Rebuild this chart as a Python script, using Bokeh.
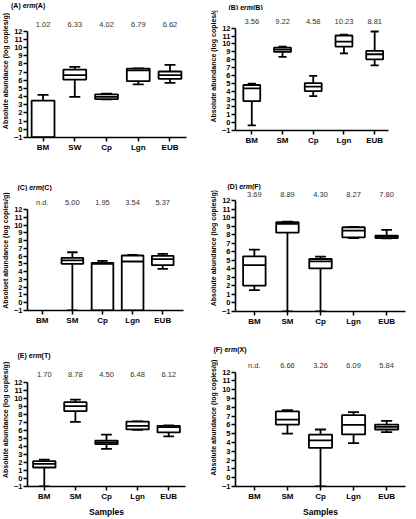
import math
from bokeh.plotting import figure
from bokeh.models import Range1d, FixedTicker
from bokeh.layouts import column, row
from bokeh.embed import file_html
from bokeh.resources import INLINE
from bokeh.core.properties import value

FONT = "Liberation Sans"
NAN = float("nan")

# ---------------- data ----------------
cats_A = ["BM", "SW", "Cp", "Lgn", "EUB"]
cats = ["BM", "SM", "Cp", "Lgn", "EUB"]
y_ticks = list(range(-1, 13))
ylabel = "Absolute abundance (log copies/g)"
ylabel_C = "Absoluet abundance (log copies/g)"
xlabel = "Samples"

# (A) erm(A)
A_means = ["1.02", "6.33", "4.02", "6.79", "6.62"]
A_lo = [-1, 3.98, 3.66, 5.49, 5.68]
A_q1 = [-1, 6.09, 3.70, 5.89, 6.17]
A_med = [-1, 6.62, 3.98, 7.22, 6.62]
A_q3 = [3.50, 7.31, 4.27, 7.43, 7.07]
A_hi = [4.22, 7.63, 4.35, 7.45, 7.87]

# (B) erm(B)
B_means = ["3.56", "9.22", "4.58", "10.23", "8.81"]
B_lo = [-0.36, 8.35, 3.38, 8.81, 7.28]
B_q1 = [2.74, 8.98, 4.01, 9.66, 8.05]
B_med = [4.35, 9.28, 4.57, 10.30, 8.69]
B_q3 = [4.78, 9.54, 5.03, 11.07, 9.11]
B_hi = [4.95, 9.66, 5.93, 11.19, 11.58]

# (C) erm(C)
C_means = ["n.d.", "5.00", "1.95", "3.54", "5.37"]
C_lo = [NAN, -1, -1, -1, 4.37]
C_q1 = [NAN, 5.01, -1, -1, 4.83]
C_med = [NAN, 5.44, 5.00, 5.31, 5.60]
C_q3 = [NAN, 5.78, 5.14, 6.08, 6.04]
C_hi = [NAN, 6.50, 5.40, 6.17, 6.30]

# (D) erm(F)
D_means = ["3.69", "8.89", "4.30", "8.27", "7.80"]
D_lo = [1.51, -1, -1, 7.61, 7.58]
D_q1 = [2.02, 8.24, 4.05, 7.69, 7.60]
D_med = [4.44, 9.26, 4.87, 8.48, 7.73]
D_q3 = [5.46, 9.45, 5.15, 8.87, 7.89]
D_hi = [6.24, 9.53, 5.42, 8.90, 8.55]

# (E) erm(T)
E_means = ["1.70", "8.78", "4.50", "6.48", "6.12"]
E_lo = [-1, 7.05, 3.70, 6.05, 5.25]
E_q1 = [1.37, 8.40, 4.27, 6.11, 5.74]
E_med = [1.82, 9.02, 4.48, 6.56, 6.40]
E_q3 = [2.15, 9.51, 4.72, 7.09, 6.56]
E_hi = [2.35, 9.83, 5.46, 7.12, 6.60]

# (F) erm(X)
F_means = ["n.d.", "6.66", "3.26", "6.09", "5.84"]
F_lo = [NAN, 5.00, -1, 3.92, 5.18]
F_q1 = [NAN, 6.04, 3.40, 4.92, 5.48]
F_med = [NAN, 6.60, 4.25, 6.00, 5.78]
F_q3 = [NAN, 7.53, 4.89, 7.12, 6.04]
F_hi = [NAN, 7.68, 5.48, 7.46, 6.45]

S = 10  # width of the y-label strip
# approximate Arial-bold advance widths (em) for the title letters
EM = {"A": 0.722, "B": 0.722, "C": 0.722, "D": 0.722, "E": 0.667, "F": 0.611,
      "T": 0.611, "X": 0.667}


def style_axis(ax, size):
    ax.axis_line_width = 1.6
    ax.major_tick_line_width = 1.5
    ax.major_tick_out = 4
    ax.major_tick_in = 0
    ax.minor_tick_out = 0
    ax.minor_tick_in = 0
    ax.major_label_standoff = 1
    ax.major_label_text_font = FONT
    ax.major_label_text_font_style = "bold"
    ax.major_label_text_font_size = size
    ax.major_label_text_color = "black"
    ax.axis_label_text_font = FONT
    ax.axis_label_text_font_style = "bold"
    ax.axis_label_text_color = "black"


def blank(w, h):
    f = figure(width=w, height=h, output_backend="svg", toolbar_location=None,
               x_range=Range1d(0, w), y_range=Range1d(0, h),
               x_axis_location=None, y_axis_location=None, min_border=0)
    f.outline_line_color = None
    f.grid.visible = False
    return f


def make_panel(letter, gene, categories, means, lo, q1, med, q3, hi, ylab_text, lay, samples=None):
    W, H, L, R, B, Hh = lay["W"], lay["H"], lay["L"], lay["R"], lay["B"], lay["Hh"]
    y12 = lay["y12"]
    Hm = H - Hh
    pos = list(range(1, len(categories) + 1))

    # ---- header with the title, full panel width (pixel coords, y up) ----
    hd = blank(W, Hh)
    tx, ty = lay["title"]
    fs = 7.0
    wa = (0.666 + EM[letter]) * fs
    sp = 0.278 * fs
    we = (0.556 + 0.389 + 0.889) * fs
    x_e = tx + wa + sp
    x_g = x_e + we
    parts = [("(%s)" % letter, tx, "bold"), ("erm", x_e, "bold italic"),
             ("(%s)" % gene, x_g, "bold")]
    for txt, px, fst in parts:
        hd.text(x=[px], y=[Hh - ty], text=[txt], text_align="left", text_baseline="middle",
                text_font=value(FONT), text_font_size="%.1fpx" % fs,
                text_font_style=fst, text_color="black")

    # ---- y-label strip (pixel coords, y up) ----
    st = blank(S, Hm)
    st.text(x=[5], y=[Hm - (lay["ylab"] - Hh)], text=[ylab_text], angle=math.pi / 2,
            text_align="center", text_baseline="middle", text_font=value(FONT),
            text_font_size="7px", text_font_style="bold", text_color="black")

    # ---- main box plot ----
    hm = Hm - B
    d = y12 - Hh
    unit = (hm - d) / 13.0
    ytop = 12 + d / unit
    p = figure(width=W - S, height=Hm, output_backend="svg", toolbar_location=None,
               x_range=Range1d(*lay["xr"]), y_range=Range1d(-1, ytop),
               min_border_left=L - S, min_border_right=R, min_border_top=0,
               min_border_bottom=B)
    p.outline_line_color = None
    p.grid.visible = False

    ya = p.yaxis[0]
    ya.ticker = FixedTicker(ticks=y_ticks)
    ya.bounds = (-1, 12)
    style_axis(ya, "7.5px")

    xa = p.xaxis[0]
    xa.ticker = FixedTicker(ticks=pos)
    xa.major_label_overrides = {i: c for i, c in zip(pos, categories)}
    style_axis(xa, "8px")
    if samples is not None:
        xa.axis_label = samples
        xa.axis_label_text_font_size = "8.5px"
        xa.axis_label_standoff = 3

    bw = lay["bw"]
    cw = bw * 0.48
    idx = [i for i in range(len(categories)) if not math.isnan(med[i])]
    xs = [pos[i] for i in idx]
    lo_ = [lo[i] for i in idx]
    q1_ = [q1[i] for i in idx]
    md_ = [med[i] for i in idx]
    q3_ = [q3[i] for i in idx]
    hi_ = [hi[i] for i in idx]
    lw = 1.8
    p.segment(x0=xs, x1=xs, y0=q3_, y1=hi_, line_color="black", line_width=lw)
    p.segment(x0=xs, x1=xs, y0=q1_, y1=lo_, line_color="black", line_width=lw)
    p.segment(x0=[x - cw / 2 for x in xs], x1=[x + cw / 2 for x in xs], y0=hi_, y1=hi_,
              line_color="black", line_width=lw)
    p.segment(x0=[x - cw / 2 for x in xs], x1=[x + cw / 2 for x in xs], y0=lo_, y1=lo_,
              line_color="black", line_width=lw)
    p.vbar(x=xs, bottom=q1_, top=q3_, width=bw, fill_color="white", line_color="black",
           line_width=lw)
    p.segment(x0=[x - bw / 2 for x in xs], x1=[x + bw / 2 for x in xs], y0=md_, y1=md_,
              line_color="black", line_width=lw)

    # mean values above the boxes
    yv = 12 + lay["voff"] / unit
    p.text(x=pos, y=[yv] * len(pos), text=means, text_align="center", text_baseline="middle",
           text_font=value(FONT), text_font_size="7.5px", text_color="#333333")

    return column(hd, row(st, p, spacing=0), spacing=0)


LAY_A = dict(W=208, H=168, L=26, R=22, B=31, y12=30.7, Hh=12, xr=(0.51, 5.52), bw=0.72,
             title=(10.5, 5), ylab=85, voff=7)
LAY_B = dict(W=208, H=168, L=25, R=28, B=38, y12=27.7, Hh=10, xr=(0.47, 5.45), bw=0.55,
             title=(20, 4.5), ylab=81, voff=7)
LAY_C = dict(W=208, H=168, L=25, R=25, B=26, y12=41, Hh=23, xr=(0.51, 5.69), bw=0.72,
             title=(17, 18.5), ylab=95, voff=7)
LAY_D = dict(W=208, H=168, L=25, R=11, B=25, y12=32, Hh=22, xr=(0.43, 5.57), bw=0.68,
             title=(19, 17.5), ylab=91.5, voff=6)
LAY_E = dict(W=208, H=183, L=25, R=23, B=31, y12=46, Hh=24, xr=(0.46, 5.54), bw=0.72,
             title=(17, 19), ylab=99, voff=8)
LAY_F = dict(W=208, H=183, L=25, R=11, B=30, y12=36, Hh=18, xr=(0.43, 5.57), bw=0.70,
             title=(5, 13), ylab=97, voff=7)

pA = make_panel("A", "A", cats_A, A_means, A_lo, A_q1, A_med, A_q3, A_hi, ylabel, LAY_A)
pB = make_panel("B", "B", cats, B_means, B_lo, B_q1, B_med, B_q3, B_hi, ylabel, LAY_B)
pC = make_panel("C", "C", cats, C_means, C_lo, C_q1, C_med, C_q3, C_hi, ylabel_C, LAY_C)
pD = make_panel("D", "F", cats, D_means, D_lo, D_q1, D_med, D_q3, D_hi, ylabel, LAY_D)
pE = make_panel("E", "T", cats, E_means, E_lo, E_q1, E_med, E_q3, E_hi, ylabel, LAY_E,
                samples=xlabel)
pF = make_panel("F", "X", cats, F_means, F_lo, F_q1, F_med, F_q3, F_hi, ylabel, LAY_F,
                samples=xlabel)

layout = column(row(pA, pB, spacing=0), row(pC, pD, spacing=0), row(pE, pF, spacing=0),
                spacing=0)

open("out.html", "w").write(file_html(layout, INLINE))
